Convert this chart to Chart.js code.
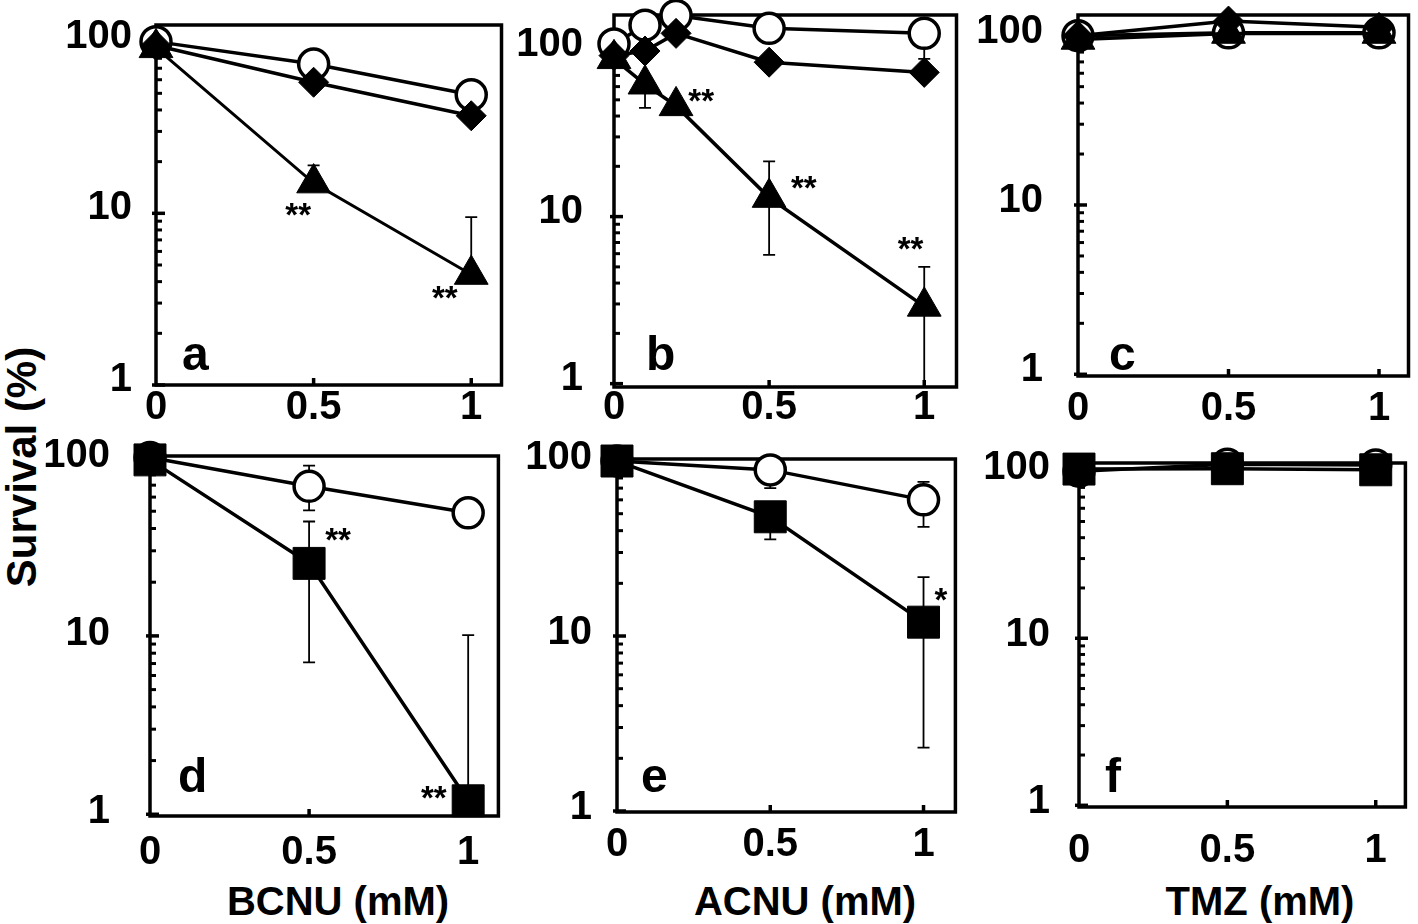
<!DOCTYPE html>
<html><head><meta charset="utf-8">
<script src="https://cdn.jsdelivr.net/npm/chart.js@4.4.1/dist/chart.umd.min.js"></script>
<style>
html,body{margin:0;padding:0;background:#fff;}
body{width:1418px;height:924px;position:relative;overflow:hidden;font-family:"Liberation Sans",Arial,Helvetica,sans-serif;}
canvas{position:absolute;}
.title{position:absolute;font-weight:bold;white-space:nowrap;color:#000;line-height:1;}
</style></head><body>
<div class="title" style="left:22px;top:467px;font-size:42px;transform:translate(-50%,-50%) rotate(-90deg);">Survival (%)</div>
<div class="title" style="left:338px;top:881px;font-size:40px;transform:translateX(-50%);">BCNU (mM)</div>
<div class="title" style="left:805px;top:881px;font-size:40px;transform:translateX(-50%);">ACNU (mM)</div>
<div class="title" style="left:1260px;top:881px;font-size:40px;transform:translateX(-50%);">TMZ (mM)</div>
<canvas id="pa"></canvas><canvas id="pb"></canvas><canvas id="pc"></canvas>
<canvas id="pd"></canvas><canvas id="pe"></canvas><canvas id="pf"></canvas>
<script>
// ---------- data ----------
const doseStd = [0, 0.5, 1];
const doseB = [0, 0.1, 0.2, 0.5, 1];
const xTickValues = [0, 0.5, 1];
const xTickLabels = ['0', '0.5', '1'];
const yTickValues = [1,2,3,4,5,6,7,8,9,10,20,30,40,50,60,70,80,90,100];
const yTickLabels = ['1', '10', '100'];

const aCircle = [100, 74, 49];
const aDiamond = [95, 58, 37];
const aTriangle = [92, 15, 4.4];
const aTriangleHi = [null, 19, 9.5];

const bCircle = [108, 140, 160, 134, 125];
const bCircleLo = [null, null, null, null, 88];
const bDiamond = [92, 98, 125, 84, 73];
const bTriangle = [88, 62, 46, 13, 2.9];
const bTriangleHi = [null, null, null, 21.4, 5.0];
const bTriangleLo = [null, 44.7, null, 5.9, 0.5];

const cCircle = [100, 104, 104];
const cDiamond = [100, 122, 112];
const cTriangle = [95, 103, 103];

const dCircle = [100, 69, 49];
const dCircleHi = [null, 90, null];
const dCircleLo = [null, 50.5, null];
const dSquare = [97, 25.5, 1.19];
const dSquareHi = [null, 43.8, 10.1];
const dSquareLo = [null, 7.1, null];

const eCircle = [100, 89, 60];
const eCircleHi = [null, null, 76];
const eCircleLo = [null, 70, 42];
const eSquare = [100, 48, 12];
const eSquareHi = [null, null, 21.7];
const eSquareLo = [null, 35.7, 2.3];

const fCircle = [100, 110, 109];
const fSquare = [103, 103.5, 102];

// significance marks (anchored in data coordinates)
const sigA = [{x: 0.451, y: 10.9, t: '**'}, {x: 0.916, y: 3.58, t: '**'}];
const sigB = [{x: 0.281, y: 55, t: '**'}, {x: 0.612, y: 16.6, t: '**'}, {x: 0.956, y: 7.15, t: '**'}];
const sigD = [{x: 0.591, y: 38.5, t: '**'}, {x: 0.892, y: 1.37, t: '**'}];
const sigE = [{x: 1.057, y: 17.9, t: '*'}];

// ---------- styling / layout ----------
const FONT = '"Liberation Sans", Arial, Helvetica, sans-serif';
const PT = 34, PR = 14, YW = 130, XH = 80;

const MK = {
  circle:   {pointStyle: 'circle',   pointRadius: 15,   pointBorderWidth: 3.5, pointBackgroundColor: '#fff', pointBorderColor: '#000'},
  diamond:  {pointStyle: 'rectRot',  pointRadius: 15,   pointBorderWidth: 1, pointBackgroundColor: '#000', pointBorderColor: '#000'},
  triangle: {pointStyle: 'triangle', pointRadius: 19.5, pointBorderWidth: 1, pointBackgroundColor: '#000', pointBorderColor: '#000'},
  square:   {pointStyle: 'rect',     pointRadius: 22.6, pointBorderWidth: 1, pointBackgroundColor: '#000', pointBorderColor: '#000'}
};

function ds(xs, ys, kind, order, lw) {
  return Object.assign({
    data: xs.map((x, i) => ({x: x, y: ys[i]})),
    showLine: true, borderColor: '#000', borderWidth: lw || 3.5,
    pointHoverRadius: MK[kind].pointRadius, order: order, clip: false, tension: 0
  }, MK[kind]);
}

function makeFrame(cfg) {
  return {
    id: 'frame',
    beforeDatasetsDraw(chart) {
      const ctx = chart.ctx, ca = chart.chartArea, x = chart.scales.x, y = chart.scales.y;
      ctx.save();
      ctx.strokeStyle = '#000';
      ctx.lineWidth = 3.5;
      ctx.strokeRect(ca.left, ca.top, ca.right - ca.left, ca.bottom - ca.top);
      y.ticks.forEach(t => {
        const py = y.getPixelForValue(t.value);
        if (py < ca.top - 1 || py > ca.bottom + 1) return;
        const major = yTickLabels.includes(String(t.value));
        ctx.lineWidth = major ? 3.5 : 3;
        ctx.beginPath();
        ctx.moveTo(ca.left - (major ? 4 : 0), py);
        ctx.lineTo(ca.left + (major ? 9 : 6), py);
        ctx.stroke();
      });
      x.ticks.forEach(t => {
        if (t.value === 0) return;
        const px = x.getPixelForValue(t.value);
        ctx.lineWidth = 3.5;
        ctx.beginPath(); ctx.moveTo(px, ca.bottom); ctx.lineTo(px, ca.bottom - 7); ctx.stroke();
      });
      ctx.beginPath(); ctx.rect(ca.left - 20, 0, ca.right - ca.left + 40, ca.bottom); ctx.clip();
      ctx.lineWidth = 1.8;
      (cfg.errors || []).forEach(e => {
        e.x.forEach((xv, i) => {
          const px = x.getPixelForValue(xv), py = y.getPixelForValue(e.y[i]);
          [e.hi ? e.hi[i] : null, e.lo ? e.lo[i] : null].forEach(v => {
            if (v == null) return;
            const pv = y.getPixelForValue(v);
            ctx.beginPath(); ctx.moveTo(px, py); ctx.lineTo(px, pv); ctx.stroke();
            if (pv < ca.bottom - 1) { ctx.beginPath(); ctx.moveTo(px - 6, pv); ctx.lineTo(px + 6, pv); ctx.stroke(); }
          });
        });
      });
      ctx.restore();
    },
    afterDatasetsDraw(chart) {
      const ctx = chart.ctx, ca = chart.chartArea, x = chart.scales.x, y = chart.scales.y;
      ctx.save();
      ctx.fillStyle = '#000';
      ctx.textAlign = 'center'; ctx.textBaseline = 'alphabetic';
      ctx.font = 'bold 33px ' + FONT;
      (cfg.sig || []).forEach(s => {
        ctx.fillText(s.t, x.getPixelForValue(s.x), y.getPixelForValue(s.y) + 0.58 * 33);
      });
      ctx.textAlign = 'left';
      ctx.font = 'bold 48px ' + FONT;
      ctx.fillText(cfg.letter.t, ca.left + cfg.letter.dx, ca.bottom - cfg.letter.dy);
      ctx.restore();
    }
  };
}

function panel(id, g, datasets, cfg) {
  const cv = document.getElementById(id);
  const w = g.R - g.L + YW + PR, h = g.B - g.T + PT + XH;
  cv.width = w; cv.height = h;
  cv.style.left = (g.L - YW) + 'px'; cv.style.top = (g.T - PT) + 'px';
  cv.style.width = w + 'px'; cv.style.height = h + 'px';
  const tickFont = {family: FONT, size: 40, weight: 'bold', lineHeight: 0.5};
  new Chart(cv, {
    type: 'scatter',
    data: {datasets: datasets},
    options: {
      responsive: false, maintainAspectRatio: false, animation: false, devicePixelRatio: 1, events: [],
      layout: {padding: {left: 0, top: PT, right: PR, bottom: 0}},
      plugins: {legend: {display: false}, tooltip: {enabled: false}},
      scales: {
        x: {
          type: 'linear', min: 0, max: g.xMax,
          grid: {display: false}, border: {display: false},
          afterBuildTicks: s => { s.ticks = xTickValues.map(v => ({value: v})); },
          afterFit: s => { s.height = XH; s.paddingLeft = 0; s.paddingRight = 0; },
          ticks: {autoSkip: false, maxRotation: 0, minRotation: 0, padding: g.xPad, color: '#000', font: tickFont,
                  callback: (v, i) => xTickLabels[i]}
        },
        y: {
          type: 'logarithmic', min: g.yMin, max: g.yMax,
          grid: {display: false}, border: {display: false},
          afterBuildTicks: s => { s.ticks = yTickValues.filter(v => v >= s.min && v <= s.max).map(v => ({value: v})); },
          afterFit: s => { s.width = YW; s.paddingTop = 0; s.paddingBottom = 0; },
          ticks: {autoSkip: false, padding: g.yPad, color: '#000', font: tickFont, labelOffset: g.yOff || 0,
                  callback: v => (yTickLabels.includes(String(v)) ? String(v) : '')}
        }
      }
    },
    plugins: [makeFrame(cfg)]
  });
}

panel('pa', {L: 156, R: 508, T: 25, B: 385, yMin: 1, yMax: 125, xMax: 1.096, yPad: 16, xPad: 5, yOff: -5},
  [ds(doseStd, aTriangle, 'triangle', 1, 3), ds(doseStd, aDiamond, 'diamond', 2), ds(doseStd, aCircle, 'circle', 3)],
  {errors: [{x: doseStd, y: aTriangle, hi: aTriangleHi}], sig: sigA, letter: {t: 'a', dx: 26, dy: 15}});

panel('pb', {L: 614, R: 963, T: 15, B: 387, yMin: 0.955, yMax: 161, xMax: 1.104, yPad: 23, xPad: 3, yOff: -5},
  [ds(doseB, bTriangle, 'triangle', 1), ds(doseB, bDiamond, 'diamond', 2), ds(doseB, bCircle, 'circle', 3)],
  {errors: [{x: doseB, y: bTriangle, hi: bTriangleHi, lo: bTriangleLo}, {x: doseB, y: bCircle, lo: bCircleLo}],
   sig: sigB, letter: {t: 'b', dx: 32, dy: 17}});

panel('pc', {L: 1078, R: 1415, T: 15, B: 376, yMin: 0.977, yMax: 132.5, xMax: 1.098, yPad: 27, xPad: 15, yOff: -4},
  [ds(doseStd, cTriangle, 'triangle', 1), ds(doseStd, cDiamond, 'diamond', 2), ds(doseStd, cCircle, 'circle', 3)],
  {errors: [], sig: [], letter: {t: 'c', dx: 31, dy: 6}});

panel('pd', {L: 150, R: 508, T: 456, B: 816, yMin: 0.978, yMax: 102, xMax: 1.095, yPad: 32, xPad: 19, yOff: -2},
  [ds(doseStd, dSquare, 'square', 1), ds(doseStd, dCircle, 'circle', 2)],
  {errors: [{x: doseStd, y: dSquare, hi: dSquareHi, lo: dSquareLo}, {x: doseStd, y: dCircle, hi: dCircleHi, lo: dCircleLo}],
   sig: sigD, letter: {t: 'd', dx: 28, dy: 24}});

panel('pe', {L: 617, R: 965, T: 459, B: 812, yMin: 0.987, yMax: 102.7, xMax: 1.104, yPad: 17, xPad: 15, yOff: -3},
  [ds(doseStd, eSquare, 'square', 1), ds(doseStd, eCircle, 'circle', 2)],
  {errors: [{x: doseStd, y: eSquare, hi: eSquareHi, lo: eSquareLo}, {x: doseStd, y: eCircle, hi: eCircleHi, lo: eCircleLo}],
   sig: sigE, letter: {t: 'e', dx: 24, dy: 20}});

panel('pf', {L: 1079, R: 1415, T: 463, B: 807, yMin: 0.977, yMax: 112, xMax: 1.1, yPad: 21, xPad: 26, yOff: -3},
  [ds(doseStd, fSquare, 'square', 1), ds(doseStd, fCircle, 'circle', 2)],
  {errors: [], sig: [], letter: {t: 'f', dx: 26, dy: 15}});
</script>
</body></html>
